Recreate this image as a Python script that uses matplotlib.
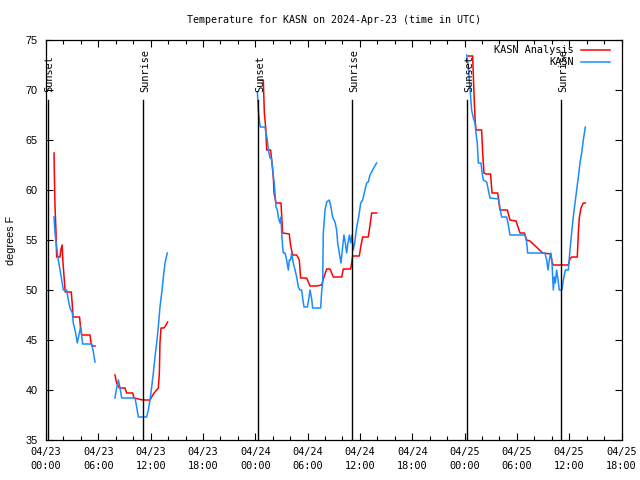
import matplotlib
matplotlib.use("Agg")
import matplotlib.pyplot as plt

# hours since 2024-04-23 00:00 UTC, temperature in F
# red: KASN Analysis, blue: KASN obs ; each in separate pieces (gaps in data)
ana_h1 = [0.92, 0.95, 1.03, 1.15, 1.22, 1.61, 1.70, 1.85, 1.95, 2.10, 2.20, 2.90, 3.00, 3.10,
          3.85, 3.95, 4.10, 5.05, 5.15, 5.25, 5.62]
ana_t1 = [63.7, 62.0, 58.5, 55.7, 53.3, 53.3, 54.0, 54.5, 52.7, 51.0, 49.8, 49.8, 48.7, 47.3,
          47.3, 46.3, 45.5, 45.5, 44.8, 44.4, 44.4]
ana_h2 = [7.91, 8.10, 8.41, 9.06, 9.25, 9.94, 10.09, 11.09, 11.93, 12.12, 12.39, 12.88, 13.00,
          13.07, 13.19, 13.53, 13.76, 13.95]
ana_t2 = [41.5, 40.7, 40.2, 40.2, 39.7, 39.7, 39.2, 39.0, 39.0, 39.3, 39.7, 40.2, 41.7,
          44.7, 46.2, 46.2, 46.5, 46.8]
ana_h3 = [24.46, 24.92, 25.04, 25.19, 25.31, 25.76, 25.88, 26.07, 26.15, 26.38, 26.95, 27.14,
          27.90, 28.06, 28.29, 28.75, 29.05, 29.20, 29.89, 30.28, 31.04, 31.61, 31.88, 32.19,
          32.57, 32.76, 32.95, 33.91, 34.10, 34.94, 35.05, 35.17, 35.93, 36.09, 36.32, 36.96,
          37.16, 37.35, 37.92]
ana_t3 = [71.0, 71.0, 67.7, 66.3, 64.0, 64.0, 63.0, 61.3, 59.7, 58.7, 58.7, 55.7,
          55.6, 54.4, 53.5, 53.5, 53.0, 51.2, 51.2, 50.4, 50.4, 50.5, 51.3, 52.1,
          52.1, 51.7, 51.3, 51.3, 52.1, 52.1, 52.7, 53.4, 53.4, 54.3, 55.3, 55.3,
          56.5, 57.7, 57.7]
ana_h4 = [48.43, 48.93, 49.08, 49.20, 49.31, 49.96, 50.08, 50.23, 50.46, 50.99, 51.15, 51.80,
          52.06, 52.91, 53.21, 53.90, 54.17, 54.36, 54.85, 55.12, 55.50, 56.96, 57.91, 58.03,
          58.18, 59.90, 60.09, 60.28, 60.93, 61.05, 61.16, 61.35, 61.62, 61.85]
ana_t4 = [73.4, 73.4, 69.7, 67.2, 66.0, 66.0, 63.7, 61.7, 61.6, 61.6, 59.7, 59.7,
          58.0, 58.0, 57.0, 56.9, 56.2, 55.7, 55.7, 55.0, 54.9, 53.7, 53.6, 52.8,
          52.5, 52.5, 53.1, 53.3, 53.3, 55.7, 57.2, 58.2, 58.7, 58.7]

obs_h1 = [0.92, 1.03, 1.22, 1.41, 1.61, 1.80, 1.99, 2.37, 2.56, 2.75, 3.02, 3.13, 3.40, 3.59,
          3.82, 3.98, 4.20, 5.24, 5.43, 5.62]
obs_t1 = [57.3, 55.7, 54.3, 53.0, 52.0, 51.0, 50.0, 50.0, 49.0, 48.2, 47.7, 46.7, 45.7, 44.7,
          45.7, 46.3, 44.6, 44.6, 43.8, 42.8]
obs_h2 = [7.91, 8.10, 8.30, 8.49, 8.68, 10.21, 10.40, 10.59, 11.54, 11.74, 11.93, 12.12, 12.31,
          12.50, 12.69, 12.88, 13.07, 13.27, 13.46, 13.65, 13.91]
obs_t2 = [39.2, 40.2, 41.0, 40.2, 39.2, 39.2, 38.3, 37.3, 37.3, 38.0, 39.0, 40.3, 41.7,
          43.3, 44.7, 46.3, 48.3, 49.7, 51.3, 52.7, 53.7]
obs_h3 = [24.24, 24.35, 24.46, 24.58, 25.11, 25.23, 25.38, 25.50, 25.69, 25.84, 25.99, 26.07,
          26.18, 26.26, 26.38, 26.53, 26.64, 26.83, 26.95, 27.03, 27.14, 27.22, 27.41, 27.60,
          27.79, 27.90, 28.06, 28.17, 28.36, 28.56, 28.75, 28.94, 29.13, 29.32, 29.43, 29.59,
          29.97, 30.12, 30.28, 30.47, 30.58, 31.50, 31.61, 31.73, 31.80, 32.00, 32.19, 32.49,
          32.68, 32.87, 33.14, 33.33, 33.45, 33.64, 33.83, 34.02, 34.17, 34.33, 34.48, 34.63,
          34.79, 34.94, 35.09, 35.24, 35.40, 35.63, 35.86, 36.09, 36.32, 36.58, 36.77, 36.96,
          37.16, 37.46, 37.65, 37.92]
obs_t3 = [69.8, 68.0, 67.0, 66.3, 66.3, 65.7, 65.0, 64.0, 63.2, 63.2, 62.2, 61.3,
          60.7, 59.7, 58.3, 58.0, 57.3, 56.7, 57.3, 55.7, 54.3, 53.7, 53.7, 53.0,
          52.0, 53.0, 53.0, 53.7, 52.7, 52.0, 51.3, 50.3, 50.0, 50.0, 49.2, 48.3,
          48.3, 49.0, 50.0, 49.1, 48.2, 48.2, 49.8, 50.7, 55.7, 58.0, 58.8, 59.0,
          58.3, 57.3, 56.8, 56.0, 54.7, 53.7, 52.7, 54.3, 55.5, 54.7, 53.7, 54.7,
          55.5, 54.7, 55.5, 54.0, 54.7, 56.3, 57.3, 58.7, 59.0, 60.0, 60.7, 60.8,
          61.5, 62.0, 62.3, 62.7]
obs_h4 = [48.24, 48.43, 48.55, 48.70, 48.81, 49.01, 49.20, 49.31, 49.46, 49.58, 49.89, 50.00,
          50.15, 50.54, 50.73, 50.92, 51.91, 52.06, 52.26, 52.83, 53.02, 53.21, 54.93, 55.12,
          55.24, 57.22, 57.42, 57.57, 57.72, 57.87, 58.03, 58.18, 58.29, 58.41, 58.56, 58.72,
          58.87, 59.17, 59.33, 59.56, 59.90, 60.09, 60.28, 60.47, 60.67, 60.86, 61.05, 61.24,
          61.43, 61.62, 61.85]
obs_t4 = [73.5, 72.3, 71.0, 69.3, 68.0, 67.2, 66.7, 65.7, 64.7, 62.7, 62.7, 61.8,
          61.0, 60.8, 60.0, 59.2, 59.1, 58.2, 57.3, 57.3, 56.5, 55.5, 55.5, 54.8,
          53.7, 53.7, 53.0, 52.0, 53.0, 53.7, 52.7, 50.0, 51.3, 50.7, 52.0, 51.0,
          50.0, 50.0, 51.0, 52.0, 52.0, 54.0, 55.7, 57.3, 58.7, 60.0, 61.3, 62.7,
          63.7, 65.0, 66.3]

sun_hours = [0.2, 11.16, 24.35, 35.13, 48.31, 59.09]
sun_names = ["Sunset", "Sunrise", "Sunset", "Sunrise", "Sunset", "Sunrise"]

tick_hours = list(range(0, 67, 6))
tick_labels = ["04/23\n00:00", "04/23\n06:00", "04/23\n12:00", "04/23\n18:00",
               "04/24\n00:00", "04/24\n06:00", "04/24\n12:00", "04/24\n18:00",
               "04/25\n00:00", "04/25\n06:00", "04/25\n12:00", "04/25\n18:00"]

RED = "#ff0000"
BLUE = "#1a8cff"
mono = "DejaVu Sans Mono"

fig = plt.figure(figsize=(6.4, 4.8), dpi=100)
fig.subplots_adjust(left=46/640, right=621.5/640, top=1-40/480, bottom=1-440/480)
ax = fig.add_subplot(111)

for h, t in [(ana_h1, ana_t1), (ana_h2, ana_t2), (ana_h3, ana_t3), (ana_h4, ana_t4)]:
    ax.plot(h, t, color=RED, lw=1.1)
for h, t in [(obs_h1, obs_t1), (obs_h2, obs_t2), (obs_h3, obs_t3), (obs_h4, obs_t4)]:
    ax.plot(h, t, color=BLUE, lw=1.1)

for h, name in zip(sun_hours, sun_names):
    ax.plot([h, h], [35, 69], color="black", lw=1.0)
    ax.text(h + 0.2, 69.8, name, rotation=90, ha="center", va="bottom",
            family=mono, fontsize=7.4)

ax.set_xlim(0, 66)
ax.set_ylim(35, 75)
ax.set_xticks(tick_hours)
ax.set_xticklabels(tick_labels, family=mono, fontsize=7.4, linespacing=1.45)
ax.set_xticks(range(0, 67, 2), minor=True)
ax.set_yticks(range(35, 76, 5))
ax.tick_params(which="both", direction="in", top=True, right=True, width=0.8)
ax.tick_params(which="major", length=5)
ax.tick_params(which="minor", length=3)
ax.tick_params(axis="x", pad=5)
ax.tick_params(axis="y", labelsize=7.8, pad=6)
for lab in ax.get_yticklabels():
    lab.set_family("Liberation Sans")
ax.set_ylabel("degrees F", family="Liberation Sans", fontsize=7.8, labelpad=7)
for s in ax.spines.values():
    s.set_linewidth(0.9)

ax.set_title("Temperature for KASN on 2024-Apr-23 (time in UTC)", family=mono,
             fontsize=7.2, pad=12)

# legend, gnuplot style (text right-aligned, key on the right)
ax.text(0.917, 0.975, "KASN Analysis", transform=ax.transAxes, ha="right",
        va="center", family=mono, fontsize=7.4)
ax.plot([0.929, 0.98], [0.975, 0.975], transform=ax.transAxes, color=RED, lw=1.1)
ax.text(0.917, 0.945, "KASN", transform=ax.transAxes, ha="right",
        va="center", family=mono, fontsize=7.4)
ax.plot([0.929, 0.98], [0.945, 0.945], transform=ax.transAxes, color=BLUE, lw=1.1)

fig.savefig("out.png", dpi=100)
